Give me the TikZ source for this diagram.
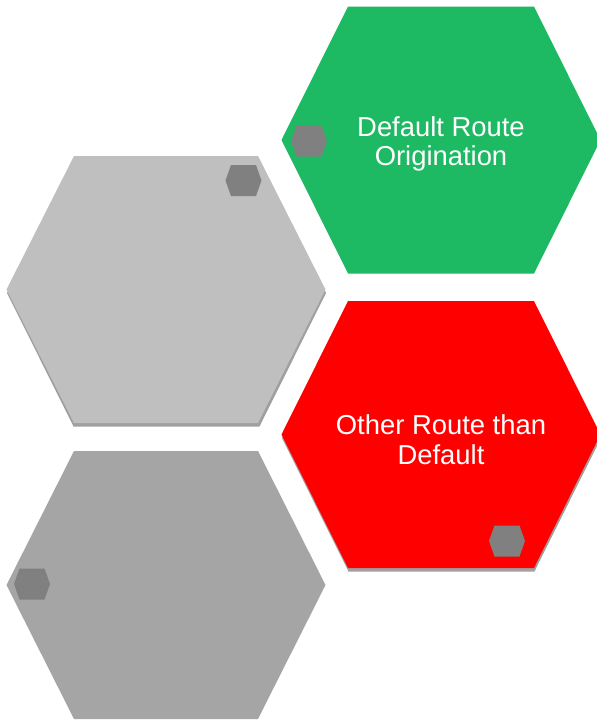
\documentclass[tikz,border=0pt]{standalone}
\usepackage{fontspec}
\setmainfont{Liberation Sans}
\definecolor{hexgreen}{RGB}{29,185,99}
\definecolor{hexred}{RGB}{255,0,0}
\definecolor{hexlight}{RGB}{191,191,191}
\definecolor{hexdark}{RGB}{165,165,165}
\definecolor{hexmark}{RGB}{128,128,128}
\definecolor{hexshadow}{RGB}{160,160,160}
% flat-topped hexagon: centre (#1,#2), half-width to side vertex #3,
% half-length of top edge #4, half-height #5
\newcommand{\hexshape}[5]{%
  (#1-#4,#2-#5) -- (#1+#4,#2-#5) -- (#1+#3,#2) -- (#1+#4,#2+#5)
  -- (#1-#4,#2+#5) -- (#1-#3,#2) -- cycle}
\begin{document}
\begin{tikzpicture}[x=1pt,y=-1pt,
  bigtext/.style={text=white,align=center,font=\fontsize{27.4}{29.5}\selectfont},
  shadowfill/.style={fill=hexshadow},
  markfill/.style={fill=hexmark}]
\useasboundingbox (0,0) rectangle (597,721);
\begin{scope}
\clip (0,0) rectangle (597,721);
% drop shadows
\fill[shadowfill] \hexshape{166.5}{293}{159.5}{93}{133.5};
\fill[shadowfill] \hexshape{441.5}{438}{159.5}{93}{133.5};
% large hexagons
\fill[hexgreen] \hexshape{441}{140}{159.5}{93}{133.5};
\fill[hexlight] \hexshape{166}{289.5}{159.5}{92}{133.5};
\fill[hexred]   \hexshape{441}{434.5}{159.5}{93}{133.5};
\fill[hexdark]  \hexshape{166}{585}{159.5}{92}{134};
% small marker hexagons
\fill[markfill] \hexshape{309}{141}{18}{12.5}{15.5};
\fill[markfill] \hexshape{243.5}{180.5}{18}{12.5}{15.5};
\fill[markfill] \hexshape{507}{541}{18}{12.5}{15.5};
\fill[markfill] \hexshape{32}{584}{18}{12.5}{15.5};
\end{scope}
% labels
\node[bigtext] (origin) at (441,144) {Default Route\\Origination};
\node[bigtext] (other) at (441,439.5) {Other Route than\\Default};
\end{tikzpicture}
\end{document}
